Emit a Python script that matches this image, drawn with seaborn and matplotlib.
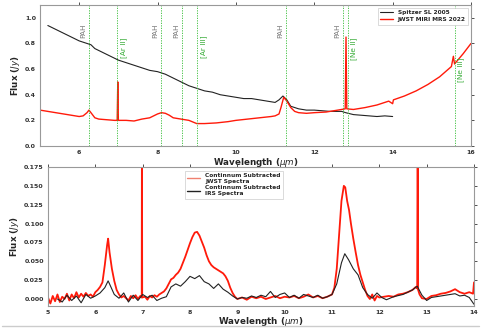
import matplotlib
matplotlib.use("Agg")
import matplotlib.pyplot as plt
import seaborn as sns
from matplotlib.lines import Line2D

# ---------------- data: top panel ----------------
spitzer_wl = [5.2, 5.4, 5.6, 5.8, 6.0, 6.2, 6.3, 6.4, 6.6, 6.8, 7.0, 7.2, 7.4, 7.6, 7.8,
              8.0, 8.2, 8.4, 8.6, 8.8, 9.0, 9.2, 9.4, 9.6, 9.8, 10.0, 10.2, 10.4, 10.6,
              10.8, 11.0, 11.1, 11.2, 11.3, 11.4, 11.6, 11.8, 12.0, 12.2, 12.4, 12.6,
              12.7, 12.8, 13.0, 13.2, 13.4, 13.6, 13.8, 14.0]
spitzer_flux = [0.94, 0.91, 0.88, 0.85, 0.82, 0.80, 0.79, 0.76, 0.73, 0.70, 0.67, 0.65,
                0.63, 0.61, 0.59, 0.58, 0.56, 0.53, 0.50, 0.47, 0.45, 0.43, 0.42, 0.40,
                0.39, 0.38, 0.37, 0.37, 0.36, 0.35, 0.34, 0.36, 0.39, 0.36, 0.31, 0.29,
                0.28, 0.28, 0.275, 0.27, 0.27, 0.27, 0.26, 0.245, 0.24, 0.235, 0.23,
                0.235, 0.23]

jwst_wl = [5.0, 5.2, 5.4, 5.6, 5.8, 6.0, 6.1, 6.2, 6.25, 6.3, 6.4, 6.5, 6.7, 6.9, 6.97,
           6.985, 7.0, 7.2, 7.4, 7.6, 7.8, 8.0, 8.1, 8.2, 8.3, 8.4, 8.6, 8.8, 9.0, 9.2,
           9.5, 9.8, 10.0, 10.3, 10.6, 10.9, 11.0, 11.1, 11.15, 11.22, 11.3, 11.4, 11.5,
           11.6, 11.8, 12.0, 12.3, 12.6, 12.79, 12.81, 12.83, 13.0, 13.3, 13.6, 13.9,
           14.0, 14.02, 14.3, 14.6, 14.9, 15.2, 15.5, 15.55, 15.58, 15.8, 16.0]
jwst_flux = [0.28, 0.27, 0.26, 0.25, 0.24, 0.23, 0.235, 0.26, 0.28, 0.26, 0.22, 0.21,
             0.205, 0.20, 0.20, 0.50, 0.20, 0.20, 0.195, 0.21, 0.22, 0.25, 0.26, 0.255,
             0.24, 0.22, 0.21, 0.20, 0.175, 0.175, 0.18, 0.19, 0.20, 0.21, 0.22, 0.23,
             0.235, 0.25, 0.30, 0.38, 0.35, 0.30, 0.27, 0.26, 0.255, 0.26, 0.265, 0.28,
             0.29, 0.85, 0.29, 0.285, 0.30, 0.32, 0.35, 0.33, 0.36, 0.39, 0.43, 0.48,
             0.54, 0.62, 0.70, 0.64, 0.72, 0.80]

line_wl = [6.25, 6.97, 8.1, 8.63, 9.0, 11.27, 12.73, 12.85, 15.58]
line_labels = ["PAH", "[Ar II]", "PAH", "PAH", "[Ar III]", "PAH", "PAH", "[Ne II]", "[Ne III]"]
label_y = [0.84, 0.69, 0.84, 0.84, 0.69, 0.84, 0.84, 0.67, 0.50]

top_xticks = [6, 8, 10, 12, 14, 16]
top_yticks = [0.0, 0.2, 0.4, 0.6, 0.8, 1.0]

# ---------------- data: bottom panel ----------------
sub_jwst_wl = [5.00, 5.05, 5.10, 5.15, 5.20, 5.25, 5.30, 5.35, 5.40, 5.45, 5.50, 5.55,
               5.60, 5.65, 5.70, 5.75, 5.80, 5.85, 5.90, 5.95, 6.00, 6.05, 6.10, 6.15,
               6.20, 6.25, 6.27, 6.30, 6.35, 6.40, 6.45, 6.50, 6.55, 6.60, 6.70, 6.75,
               6.80, 6.85, 6.90, 6.95, 6.98, 6.985, 6.99, 7.05, 7.10, 7.15, 7.20, 7.25,
               7.30, 7.35, 7.40, 7.45, 7.50, 7.55, 7.60, 7.65, 7.70, 7.75, 7.80, 7.85,
               7.90, 7.95, 8.00, 8.05, 8.10, 8.15, 8.20, 8.25, 8.30, 8.35, 8.40, 8.45,
               8.50, 8.55, 8.60, 8.65, 8.70, 8.75, 8.80, 8.85, 8.90, 8.95, 9.00, 9.1,
               9.2, 9.3, 9.4, 9.5, 9.6, 9.7, 9.8, 9.9, 10.0, 10.1, 10.2, 10.3, 10.4, 10.5,
               10.6, 10.7, 10.8, 10.9, 11.0, 11.05, 11.10, 11.15, 11.20, 11.25, 11.28,
               11.32, 11.36, 11.40, 11.45, 11.50, 11.55, 11.60, 11.65, 11.70, 11.75,
               11.80, 11.85, 11.90, 11.95, 12.00, 12.1, 12.2, 12.3, 12.4, 12.5, 12.6,
               12.7, 12.77, 12.80, 12.81, 12.82, 12.85, 12.9, 13.0, 13.1, 13.2, 13.3,
               13.4, 13.5, 13.6, 13.7, 13.8, 13.9, 13.98, 14.0]
sub_jwst_flux = [0.002, -0.006, 0.004, -0.003, 0.006, -0.004, 0.003, 0.000, 0.007, -0.002,
                 0.006, 0.001, 0.009, 0.002, 0.007, 0.003, 0.008, 0.004, 0.006, 0.003,
                 0.009, 0.012, 0.016, 0.022, 0.045, 0.072, 0.080, 0.062, 0.040, 0.024,
                 0.012, 0.006, 0.002, 0.004, -0.002, 0.004, 0.001, 0.005, 0.000, 0.004,
                 0.002, 0.26, 0.002, 0.003, -0.001, 0.004, 0.002, 0.005, 0.003, 0.006,
                 0.008, 0.010, 0.014, 0.020, 0.026, 0.028, 0.032, 0.035, 0.040, 0.048,
                 0.056, 0.065, 0.074, 0.082, 0.088, 0.089, 0.084, 0.076, 0.068, 0.058,
                 0.050, 0.045, 0.042, 0.040, 0.038, 0.036, 0.034, 0.030, 0.024, 0.015,
                 0.008, 0.003, 0.000, 0.002, -0.001, 0.003, 0.001, 0.003, 0.000, 0.002,
                 0.004, 0.001, 0.003, 0.002, 0.004, 0.001, 0.003, 0.006, 0.002, 0.004,
                 0.001, 0.003, 0.006, 0.015, 0.040, 0.085, 0.130, 0.150, 0.148, 0.130,
                 0.118, 0.100, 0.080, 0.062, 0.045, 0.032, 0.022, 0.012, 0.004, 0.000,
                 0.006, -0.002, 0.004, 0.002, 0.003, 0.004, 0.003, 0.006, 0.007, 0.009,
                 0.012, 0.016, 0.014, 0.26, 0.012, 0.006, 0.001, 0.000, 0.004, 0.005,
                 0.007, 0.008, 0.010, 0.013, 0.009, 0.007, 0.009, 0.007, 0.022]

sub_irs_wl = [5.2, 5.3, 5.4, 5.5, 5.6, 5.7, 5.8, 5.9, 6.0, 6.1, 6.2, 6.27, 6.3, 6.4, 6.5,
              6.6, 6.7, 6.8, 6.9, 7.0, 7.1, 7.2, 7.3, 7.4, 7.5, 7.6, 7.7, 7.8, 7.9, 8.0,
              8.1, 8.2, 8.3, 8.4, 8.5, 8.6, 8.7, 8.8, 8.9, 9.0, 9.1, 9.2, 9.3, 9.4, 9.5,
              9.6, 9.7, 9.8, 9.9, 10.0, 10.1, 10.2, 10.3, 10.4, 10.5, 10.6, 10.7, 10.8,
              10.9, 11.0, 11.1, 11.2, 11.27, 11.35, 11.45, 11.55, 11.65, 11.75, 11.85,
              11.95, 12.05, 12.15, 12.3, 12.5, 12.7, 12.8, 12.9, 13.0, 13.1, 13.3, 13.5,
              13.6, 13.7, 13.8, 13.9, 14.0]
sub_irs_flux = [0.000, -0.004, 0.005, -0.002, 0.004, -0.005, 0.006, 0.001, 0.004, 0.008,
                0.015, 0.024, 0.020, 0.006, 0.001, 0.008, -0.004, 0.005, -0.002, 0.006,
                0.002, 0.005, -0.002, 0.001, 0.003, 0.016, 0.020, 0.017, 0.023, 0.030,
                0.027, 0.031, 0.023, 0.020, 0.014, 0.020, 0.013, 0.009, 0.004, 0.000,
                0.002, 0.001, 0.004, 0.002, 0.005, 0.003, 0.010, 0.002, 0.006, 0.008,
                0.002, 0.005, 0.001, 0.006, 0.004, 0.002, 0.005, 0.001, 0.003, 0.006,
                0.020, 0.048, 0.060, 0.052, 0.040, 0.032, 0.015, 0.006, 0.001, 0.008,
                0.002, -0.001, 0.003, 0.006, 0.012, 0.017, 0.005, -0.002, 0.002, 0.004,
                0.006, 0.007, 0.004, 0.005, 0.002, -0.007]

bot_xticks = [5, 6, 7, 8, 9, 10, 11, 12, 13, 14]
bot_yticks = [0.0, 0.025, 0.05, 0.075, 0.1, 0.125, 0.15, 0.175]

# ---------------- figure ----------------
sns.set_style("white")
plt.rcParams['font.family'] = ['DejaVu Sans']

fig = plt.figure(figsize=(4.84, 3.29), dpi=100)
ax1 = fig.add_axes([40/484, 1-146/329, 431/484, 141/329])
ax2 = fig.add_axes([48/484, 1-306/329, 426/484, 139/329])

RED = "#ff1a0a"

# top panel
sns.lineplot(x=spitzer_wl, y=spitzer_flux, ax=ax1, color="#222222", lw=0.8,
             label="Spitzer SL 2005", estimator=None, sort=False)
sns.lineplot(x=jwst_wl, y=jwst_flux, ax=ax1, color=RED, lw=1.0,
             label="JWST MIRI MRS 2022", estimator=None, sort=False)
for wl, lab, ly in zip(line_wl, line_labels, label_y):
    ax1.axvline(wl, color="#33bb33", ls=(0, (1.5, 1.5)), lw=0.6)
    if lab == "PAH":
        ax1.text(wl - 0.07, ly, lab, rotation=90, color="#777777", fontsize=5.3,
                 ha="right", va="bottom")
    else:
        ax1.text(wl + 0.08, ly, lab, rotation=90, color="#33aa33", fontsize=5.3,
                 ha="left", va="bottom")
ax1.set_xlim(5, 16)
ax1.set_ylim(0, 1.1)
ax1.set_xticks(top_xticks)
ax1.set_yticks(top_yticks)
ax1.set_xlabel("Wavelength ($\\mu m$)", fontsize=6.3, fontweight="bold", labelpad=0.5)
ax1.set_ylabel("Flux ($Jy$)", fontsize=6.3, fontweight="bold", labelpad=2)
leg1 = ax1.legend(loc="upper right", prop={"weight": "bold", "size": 4.2},
                  handlelength=2.2, borderpad=0.4, labelspacing=0.3, framealpha=1,
                  edgecolor="#cccccc", fancybox=False)
leg1.get_frame().set_linewidth(0.5)

# bottom panel
sns.lineplot(x=sub_jwst_wl, y=sub_jwst_flux, ax=ax2, color=RED, lw=1.3,
             estimator=None, sort=False)
sns.lineplot(x=sub_irs_wl, y=sub_irs_flux, ax=ax2, color="#222222", lw=0.8,
             estimator=None, sort=False)
ax2.set_xlim(5, 14)
ax2.set_ylim(-0.0093, 0.175)
ax2.set_xticks(bot_xticks)
ax2.set_yticks(bot_yticks)
ax2.set_yticklabels([f"{v:.3f}" for v in bot_yticks])
ax2.set_xlabel("Wavelength ($\\mu m$)", fontsize=6.3, fontweight="bold", labelpad=0)
ax2.set_ylabel("Flux ($Jy$)", fontsize=6.3, fontweight="bold", labelpad=2)
handles = [Line2D([], [], color="#f08070", lw=1.0), Line2D([], [], color="#222222", lw=1.0)]
leg2 = ax2.legend(handles, ["Continnum Subtracted\nJWST Spectra",
                            "Continnum Subtracted\nIRS Spectra"],
                  loc="upper left", bbox_to_anchor=(0.315, 0.995),
                  prop={"weight": "bold", "size": 4.2}, handlelength=2.2,
                  borderpad=0.4, labelspacing=0.3, framealpha=1,
                  edgecolor="#cccccc", fancybox=False)
leg2.get_frame().set_linewidth(0.5)

for ax in (ax1, ax2):
    for s in ax.spines.values():
        s.set_color("#999999")
        s.set_linewidth(0.8)
    ax.tick_params(axis="both", which="both", labelsize=4.5, length=2, width=0.6,
                   colors="#333333", pad=1.0, direction="out",
                   top=True, right=True)
    for lab in ax.get_xticklabels() + ax.get_yticklabels():
        lab.set_fontweight("bold")

fig.add_artist(Line2D([0.005, 0.99], [1-326/329, 1-326/329], color="#cccccc", lw=1.0,
                      transform=fig.transFigure))

fig.savefig("out.png", dpi=100)
